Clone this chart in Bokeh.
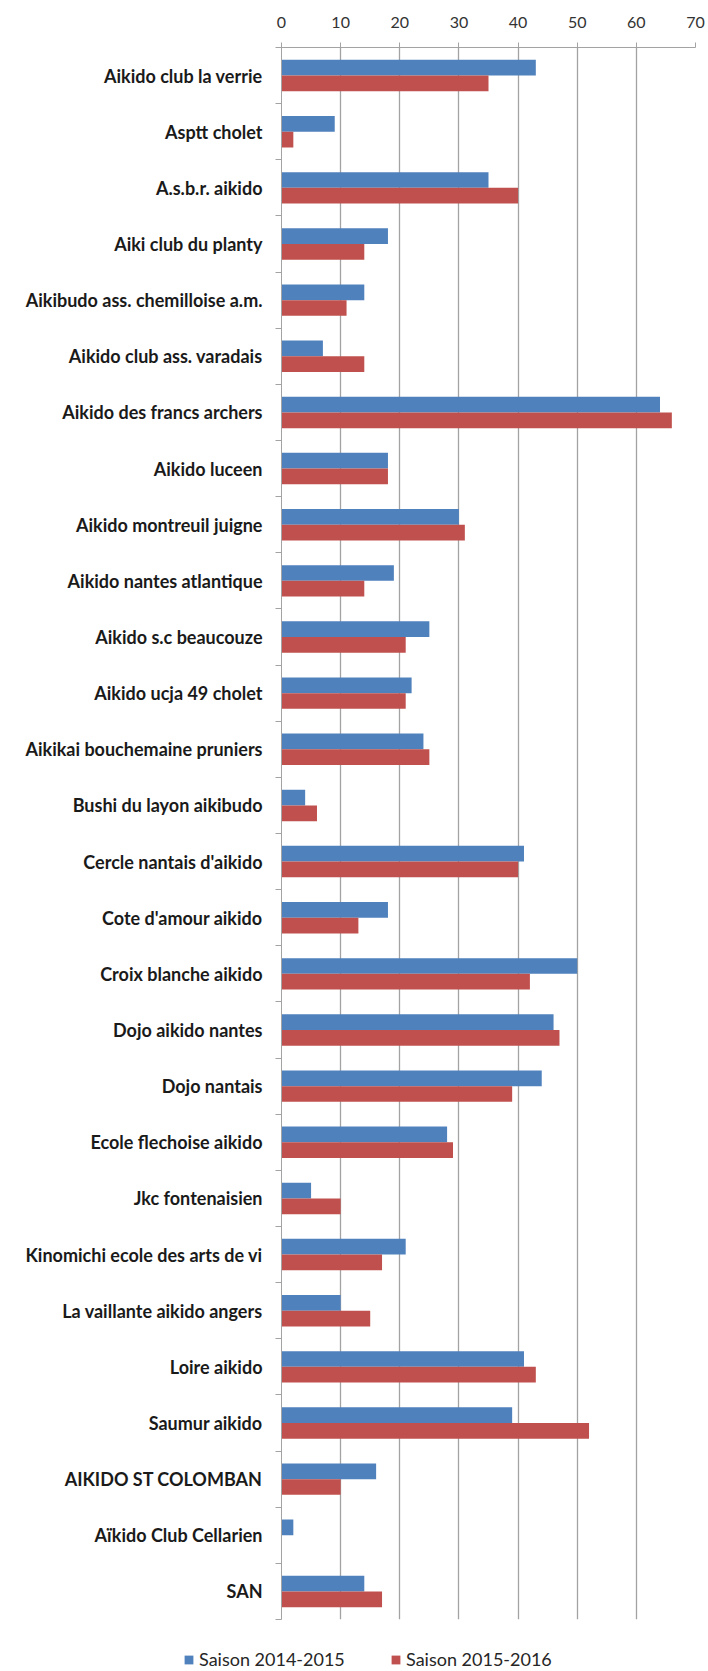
from bokeh.plotting import figure
from bokeh.models import ColumnDataSource, FixedTicker, Range1d, Legend, LegendItem
from bokeh.transform import dodge
from bokeh.embed import file_html
from bokeh.resources import INLINE

clubs = [
    "Aikido club la verrie",
    "Asptt cholet",
    "A.s.b.r. aikido",
    "Aiki club du planty",
    "Aikibudo ass. chemilloise a.m.",
    "Aikido club ass. varadais",
    "Aikido des francs archers",
    "Aikido luceen",
    "Aikido montreuil juigne",
    "Aikido nantes atlantique",
    "Aikido s.c beaucouze",
    "Aikido ucja 49 cholet",
    "Aikikai bouchemaine pruniers",
    "Bushi du layon aikibudo",
    "Cercle nantais d'aikido",
    "Cote d'amour aikido",
    "Croix blanche aikido",
    "Dojo aikido nantes",
    "Dojo nantais",
    "Ecole flechoise aikido",
    "Jkc fontenaisien",
    "Kinomichi ecole des arts de vi",
    "La vaillante aikido angers",
    "Loire aikido",
    "Saumur aikido",
    "AIKIDO ST COLOMBAN",
    "Aïkido Club Cellarien",
    "SAN",
]
saison_2014_2015 = [43, 9, 35, 18, 14, 7, 64, 18, 30, 19, 25, 22, 24, 4, 41, 18,
                    50, 46, 44, 28, 5, 21, 10, 41, 39, 16, 2, 14]
saison_2015_2016 = [35, 2, 40, 14, 11, 14, 66, 18, 31, 14, 21, 21, 25, 6, 40, 13,
                    42, 47, 39, 29, 10, 17, 15, 43, 52, 10, 0, 17]
series_names = ["Saison 2014-2015", "Saison 2015-2016"]
x_ticks = [0, 10, 20, 30, 40, 50, 60, 70]

BLUE = "#4F81BD"
RED = "#C0504D"
GRID = "#a3a3a3"
FONT = "Lato"

n = len(clubs)
idx = list(range(n))
src = ColumnDataSource(dict(idx=idx, club=clubs, a=saison_2014_2015, b=saison_2015_2016))

p = figure(width=708, height=1622, output_backend="svg", toolbar_location=None,
           x_range=Range1d(start=0, end=70), y_range=Range1d(start=n - 0.5, end=-0.5),
           x_axis_location="above", y_axis_location="left",
           min_border_left=281, min_border_right=13, min_border_top=47, min_border_bottom=3)
p.outline_line_color = None
p.background_fill_color = "white"
p.border_fill_color = "white"

bar_y_a = dodge("idx", -0.14)
bar_y_b = dodge("idx", 0.14)
r1 = p.hbar(y=bar_y_a, left=0, right="a", height=0.28, source=src,
            fill_color=BLUE, line_color=None)
r2 = p.hbar(y=bar_y_b, left=0, right="b", height=0.28, source=src,
            fill_color=RED, line_color=None)

# x axis (top)
xa = p.xaxis[0]
xa.ticker = FixedTicker(ticks=x_ticks)
xa.major_tick_out = 5
xa.major_tick_in = 0
xa.minor_tick_out = 0
xa.minor_tick_in = 0
xa.axis_line_color = GRID
xa.major_tick_line_color = GRID
xa.major_label_text_font = FONT
xa.major_label_text_font_size = "16px"
xa.major_label_text_color = "#333333"
xa.major_label_standoff = 15

p.xgrid.ticker = FixedTicker(ticks=x_ticks)
p.xgrid.grid_line_color = GRID
p.xgrid.grid_line_width = 1.3
p.ygrid.visible = False

# y axis (left): labels at category centres, tick marks at category boundaries
ya = p.yaxis[0]
ya.ticker = FixedTicker(ticks=idx, minor_ticks=[i - 0.5 for i in range(n + 1)])
ya.major_label_overrides = {i: c for i, c in zip(idx, clubs)}
ya.major_tick_out = 0
ya.major_tick_in = 0
ya.minor_tick_out = 6
ya.minor_tick_in = 0
ya.minor_tick_line_color = GRID
ya.axis_line_color = GRID
ya.major_label_standoff = 13
ya.major_label_text_font = FONT
ya.major_label_text_font_style = "bold"
ya.major_label_text_font_size = "18px"
ya.major_label_text_color = "#1a1a1a"

# legend strip under the chart (separate root so that it is not frame-aligned)
lg = figure(width=708, height=49, output_backend="svg", toolbar_location=None,
            x_axis_location=None, y_axis_location=None,
            x_range=Range1d(start=-2, end=-1), y_range=Range1d(start=n - 0.5, end=-0.5),
            min_border_left=0, min_border_right=0, min_border_top=0, min_border_bottom=0)
lg.outline_line_color = None
lg.grid.visible = False
g1 = lg.hbar(y=bar_y_a, left=0, right="a", height=0.28, source=src,
             fill_color=BLUE, line_color=None)
g2 = lg.hbar(y=bar_y_b, left=0, right="b", height=0.28, source=src,
             fill_color=RED, line_color=None)

legend = Legend(items=[LegendItem(label=series_names[0], renderers=[g1]),
                       LegendItem(label=series_names[1], renderers=[g2])],
                orientation="horizontal", location=(183, 1),
                padding=0, margin=0, spacing=0,
                glyph_width=11, glyph_height=11, label_standoff=5,
                label_width=191, label_height=16,
                label_text_font=FONT, label_text_font_size="18px",
                label_text_color="#262626",
                border_line_color=None, background_fill_alpha=0)
lg.add_layout(legend)

open("out.html", "w").write(file_html([p, lg], INLINE))
